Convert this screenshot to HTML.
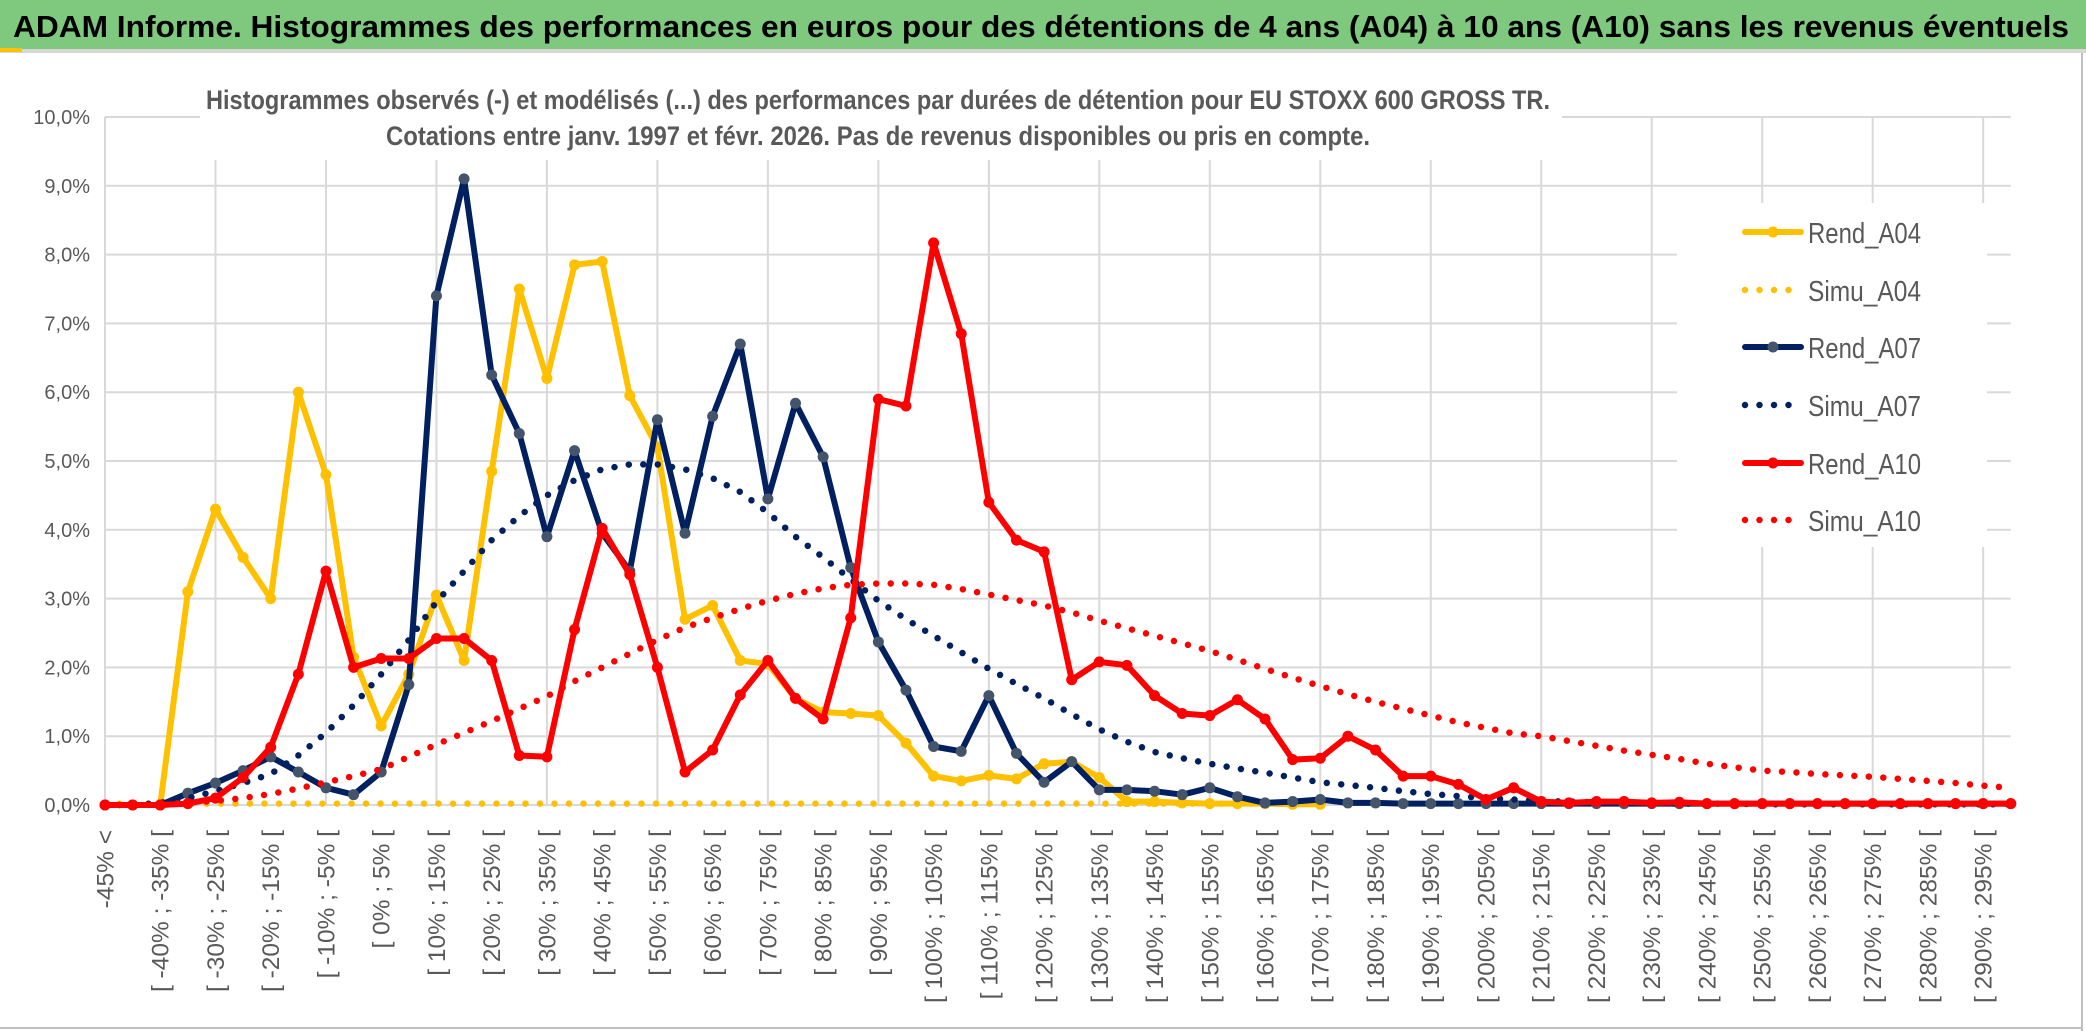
<!DOCTYPE html>
<html><head><meta charset="utf-8"><style>
html,body{margin:0;padding:0;background:#fff;}
svg{display:block;}
</style></head><body>
<svg id="chart" width="2086" height="1031" viewBox="0 0 2086 1031" xmlns="http://www.w3.org/2000/svg">
<rect x="0" y="0" width="2086" height="1031" fill="#fff"/>
<rect x="0" y="0" width="2086" height="49" fill="#7ec97e"/>
<rect x="0" y="49" width="2086" height="4" fill="#d6d6d6"/>
<rect x="0" y="48" width="22" height="4" fill="#ffc000"/>
<text x="13" y="37" font-family="Liberation Sans, sans-serif" font-size="31" font-weight="bold" fill="#000" textLength="2056" lengthAdjust="spacingAndGlyphs">ADAM Informe. Histogrammes des performances en euros pour des détentions de 4 ans (A04) à 10 ans (A10) sans les revenus éventuels</text>
<line x1="2082" y1="53" x2="2082" y2="1031" stroke="#bfbfbf" stroke-width="2"/>
<line x1="0" y1="1028" x2="2082" y2="1028" stroke="#bfbfbf" stroke-width="2"/>
<g id="grid"></g>
<g id="ylabels"></g>
<g id="xlabels"></g>
<rect x="200" y="74" width="1362" height="86" fill="#fff"/>
<text x="206" y="109" font-family="Liberation Sans, sans-serif" font-size="27" font-weight="bold" fill="#595959" textLength="1344" lengthAdjust="spacingAndGlyphs">Histogrammes observés (-) et modélisés (...) des performances par durées de détention pour EU STOXX 600 GROSS TR.</text>
<text x="386" y="145" font-family="Liberation Sans, sans-serif" font-size="27" font-weight="bold" fill="#595959" textLength="984" lengthAdjust="spacingAndGlyphs">Cotations entre janv. 1997 et févr. 2026. Pas de revenus disponibles ou pris en compte.</text>
<g id="series"></g>
<g id="legend"></g>
</svg>
<script>
const categories = ["-45% <"];
for (let k = -45; k <= 295; k += 5) categories.push("[ " + k + "% ; " + (k + 5) + "% [");
const yTicks = ["0,0%","1,0%","2,0%","3,0%","4,0%","5,0%","6,0%","7,0%","8,0%","9,0%","10,0%"];
const rendA04 = [0,0,0,3.1,4.3,3.6,3.0,6.0,4.8,2.15,1.15,1.9,3.05,2.1,4.85,7.5,6.2,7.85,7.9,5.95,5.2,2.7,2.9,2.1,2.05,1.55,1.35,1.33,1.3,0.9,0.42,0.35,0.43,0.38,0.6,0.63,0.4,0.05,0.05,0.03,0.02,0.02,0.02,0.01,0.01];
const simuA04 = [0.02,0.02,0.02,0.02,0.02,0.02,0.02,0.02,0.02,0.02,0.02,0.02,0.02,0.02,0.02,0.02,0.02,0.02,0.02,0.02,0.02,0.02,0.02,0.02,0.02,0.02,0.02,0.02,0.02,0.02,0.02,0.02,0.02,0.02,0.02,0.02,0.02,0.02,0.02,0.02,0.02,0.02,0.02,0.02,0.02];
const rendA07 = [0,0,0,0.17,0.32,0.5,0.7,0.48,0.25,0.15,0.48,1.75,7.4,9.1,6.25,5.4,3.9,5.15,3.95,3.4,5.6,3.95,5.65,6.7,4.45,5.84,5.06,3.45,2.37,1.67,0.85,0.78,1.59,0.75,0.33,0.63,0.22,0.22,0.2,0.15,0.25,0.12,0.03,0.05,0.08,0.03,0.03,0.02,0.02,0.02,0.02,0.02,0.02,0.02,0.02,0.02,0.02,0.02,0.02,0.02,0.02,0.02,0.02,0.02,0.02,0.02,0.02,0.02,0.02,0.02];
const simuA07 = [0,0,0.03,0.1,0.2,0.32,0.45,0.72,1.05,1.45,1.9,2.4,2.95,3.4,3.85,4.2,4.5,4.72,4.88,4.95,4.95,4.88,4.75,4.55,4.25,3.9,3.6,3.28,2.97,2.7,2.46,2.22,1.98,1.76,1.55,1.32,1.1,0.92,0.77,0.68,0.6,0.53,0.47,0.4,0.33,0.29,0.25,0.2,0.16,0.13,0.1,0.08,0.06,0.05,0.04,0.03,0.03,0.02,0.02,0.02,0.01,0.01,0.01,0.01,0.01,0.01,0.01,0.01,0.01,0.01];
const rendA10 = [0,0,0,0.02,0.1,0.4,0.84,1.9,3.4,2.0,2.13,2.13,2.42,2.42,2.1,0.72,0.7,2.55,4.02,3.35,2.0,0.48,0.8,1.6,2.1,1.55,1.25,2.72,5.9,5.8,8.17,6.85,4.4,3.85,3.68,1.82,2.08,2.03,1.59,1.33,1.3,1.53,1.25,0.66,0.68,1.0,0.8,0.42,0.42,0.3,0.08,0.25,0.05,0.03,0.05,0.05,0.03,0.04,0.02,0.02,0.02,0.02,0.02,0.02,0.02,0.02,0.02,0.02,0.02,0.02];
const simuA10 = [0,0,0.01,0.03,0.06,0.1,0.16,0.24,0.33,0.42,0.52,0.7,0.88,1.05,1.22,1.4,1.58,1.8,2.0,2.2,2.4,2.58,2.72,2.85,2.97,3.07,3.15,3.2,3.22,3.22,3.2,3.14,3.06,2.98,2.9,2.8,2.68,2.57,2.46,2.35,2.24,2.11,1.98,1.85,1.73,1.61,1.5,1.4,1.3,1.2,1.12,1.04,1.0,0.93,0.86,0.79,0.73,0.67,0.6,0.55,0.5,0.48,0.45,0.43,0.41,0.38,0.35,0.32,0.28,0.25];
const seriesNames = ["Rend_A04","Simu_A04","Rend_A07","Simu_A07","Rend_A10","Simu_A10"];

const NS = "http://www.w3.org/2000/svg";
const X0 = 105, DX = 27.62, Y0 = 805, PPU = 68.8;
function xs(i){ return X0 + i * DX; }
function ys(v){ return Y0 - v * PPU; }
function mk(tag, attrs, parent){
  const e = document.createElementNS(NS, tag);
  for (const k in attrs) e.setAttribute(k, attrs[k]);
  parent.appendChild(e);
  return e;
}
const grid = document.getElementById("grid");
for (let t = 0; t < yTicks.length; t++) {
  const l = mk("line", {x1: X0, x2: xs(categories.length - 1), y1: ys(t), y2: ys(t), stroke: "#d9d9d9", "stroke-width": 2}, grid);
  
  
}
for (let i = 0; i < categories.length; i += 4) {
  const l = mk("line", {x1: xs(i), x2: xs(i), y1: ys(10), y2: ys(0), stroke: "#d9d9d9", "stroke-width": 2}, grid);
  
  
}
const yl = document.getElementById("ylabels");
yTicks.forEach((t, k) => {
  const e = mk("text", {x: 90, y: ys(k) + 7, "text-anchor": "end", "font-family": "Liberation Sans, sans-serif", "font-size": 20, fill: "#595959"}, yl);
  e.textContent = t;
  
  
});
const xl = document.getElementById("xlabels");
categories.forEach((c, i) => {
  if (i % 2 !== 0) return;
  const x = xs(i) + 2, y = 830;
  const e = mk("text", {x: x, y: y, "text-anchor": "end", "dominant-baseline": "middle", transform: "rotate(-90 " + x + " " + y + ")", "font-family": "Liberation Sans, sans-serif", "font-size": 24.5, fill: "#595959"}, xl);
  e.textContent = c;
  
  
});
const sg = document.getElementById("series");
function pathD(arr){ return arr.map((v, i) => (i ? "L" : "M") + xs(i).toFixed(1) + " " + ys(v).toFixed(1)).join(" "); }
function solid(arr, color, markerColor, name){
  const g = mk("g", {}, sg);
  
  
  const p = mk("path", {d: pathD(arr), fill: "none", stroke: color, "stroke-width": 6, "stroke-linejoin": "round", "stroke-linecap": "round"}, g);
  
  
  arr.forEach((v, i) => {
    const c = mk("circle", {cx: xs(i), cy: ys(v), r: 5.5, fill: markerColor}, g);
    
    
  });
}
function dotted(arr, color, name){
  const p = mk("path", {d: pathD(arr), fill: "none", stroke: color, "stroke-width": 6.5, "stroke-linecap": "round", "stroke-dasharray": "0 14.5"}, sg);
  
  
}
solid(rendA04, "#ffc000", "#ffc000", "rend-a04");
dotted(simuA04, "#ffc000", "simu-a04");
solid(rendA07, "#002060", "#44546a", "rend-a07");
dotted(simuA07, "#002060", "simu-a07");
solid(rendA10, "#ff0000", "#ff0000", "rend-a10");
dotted(simuA10, "#ff0000", "simu-a10");

const lg = document.getElementById("legend");
const lbox = mk("rect", {x: 1677, y: 203, width: 310, height: 344, fill: "#fff"}, lg);


const legColors = ["#ffc000","#ffc000","#002060","#002060","#ff0000","#ff0000"];
const legMarkers = ["#ffc000",null,"#44546a",null,"#ff0000",null];
const legY = [232, 290, 347, 405, 463, 520];
seriesNames.forEach((n, k) => {
  const y = legY[k];
  const g = mk("g", {}, lg);
  
  
  if (legMarkers[k]) {
    mk("line", {x1: 1745, x2: 1801, y1: y, y2: y, stroke: legColors[k], "stroke-width": 6, "stroke-linecap": "round"}, g);
    mk("circle", {cx: 1773, cy: y, r: 5.5, fill: legMarkers[k]}, g);
  } else {
    mk("line", {x1: 1745, x2: k === 5 ? 1800 : 1790, y1: y, y2: y, stroke: legColors[k], "stroke-width": 6.5, "stroke-linecap": "round", "stroke-dasharray": "0 14.5"}, g);
  }
  const t = mk("text", {x: 1808, y: y + 11, "font-family": "Liberation Sans, sans-serif", "font-size": 29, fill: "#595959", textLength: 113, lengthAdjust: "spacingAndGlyphs"}, g);
  t.textContent = n;
});
</script>
</body></html>
